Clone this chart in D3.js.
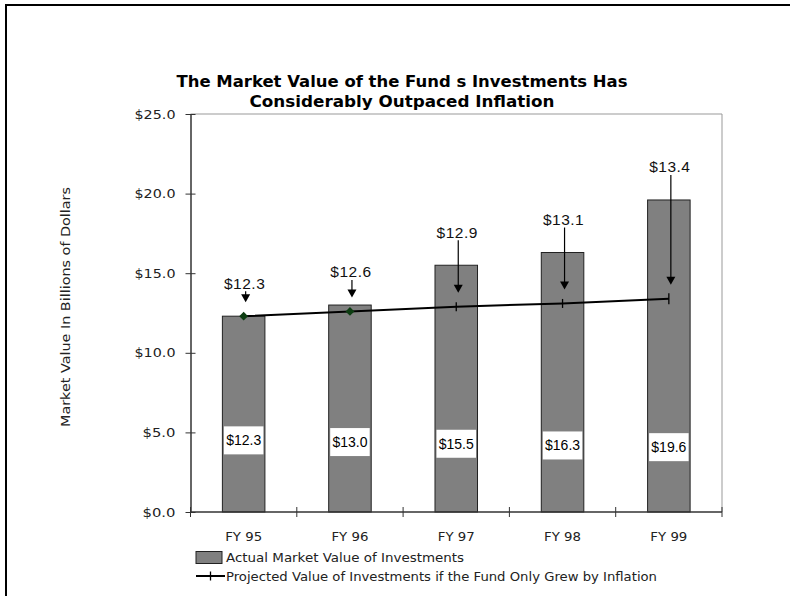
<!DOCTYPE html>
<html>
<head>
<meta charset="utf-8">
<script src="https://cdn.jsdelivr.net/npm/d3@7"></script>
<style>
  body { margin: 0; background: #fff; }
  svg { display: block; }
</style>
</head>
<body>
<div id="chart"></div>
<script>
const categories = ["FY 95", "FY 96", "FY 97", "FY 98", "FY 99"];
const actualValues = [12.3, 13.0, 15.5, 16.3, 19.6];
const projectedValues = [12.3, 12.6, 12.9, 13.1, 13.4];
const yTicks = [0, 5, 10, 15, 20, 25];
const titleLines = ["The Market Value of the Fund s Investments Has", "Considerably Outpaced Inflation"];
const legendLabels = ["Actual Market Value of Investments", "Projected Value of Investments if the Fund Only Grew by Inflation"];

const W = 790, H = 596;
const plotLeft = 190.5, plotRight = 722, plotTop = 114, plotBottom = 512;
const font = "'DejaVu Sans', sans-serif";
const money = d => "$" + d.toFixed(1);

const svg = d3.select("#chart").append("svg")
    .attr("width", W)
    .attr("height", H);

// outer frame (runs off the page on the right and bottom)
svg.append("rect")
    .attr("x", 6).attr("y", 5)
    .attr("width", 820).attr("height", 620)
    .style("fill", "none")
    .style("stroke", "#000")
    .style("stroke-width", 2);

const x = d3.scaleBand()
    .domain(categories)
    .range([plotLeft, plotRight])
    .paddingInner(0.6)
    .paddingOuter(0.3);

const y = d3.scaleLinear()
    .domain([0, 25])
    .range([plotBottom, plotTop]);

// title
svg.append("g").selectAll("text")
    .data(titleLines)
    .enter().append("text")
    .attr("x", 402)
    .attr("y", (d, i) => 87 + i * 20)
    .attr("text-anchor", "middle")
    .style("font-family", font)
    .style("font-weight", "bold")
    .style("font-size", "15px")
    .attr("textLength", (d, i) => i === 0 ? 451 : 305)
    .attr("lengthAdjust", "spacingAndGlyphs")
    .text(d => d);

// plot frame top / right
svg.append("path")
    .attr("d", `M${plotLeft},${plotTop}H${plotRight}V${plotBottom}`)
    .style("fill", "none")
    .style("stroke", "#999")
    .style("stroke-width", 1);

// y axis
const yAxis = d3.axisLeft(y)
    .tickValues(yTicks)
    .tickFormat(money)
    .tickSize(5)
    .tickSizeOuter(0)
    .tickPadding(10);

const yg = svg.append("g")
    .attr("transform", `translate(${plotLeft},0)`)
    .call(yAxis);
yg.select(".domain").style("stroke", "#333").style("stroke-width", 1.5);
yg.selectAll(".tick line").attr("x1", 5).style("stroke", "#333");
yg.selectAll(".tick text")
    .style("font-family", font)
    .style("font-size", "12.5px")
    .style("fill", "#222")
    .attr("textLength", d => d < 10 ? 33 : 41)
    .attr("lengthAdjust", "spacingAndGlyphs");

svg.append("text")
    .attr("transform", "translate(70,307) rotate(-90)")
    .attr("text-anchor", "middle")
    .style("font-family", font)
    .style("font-size", "13px")
    .style("fill", "#222")
    .attr("textLength", 240)
    .attr("lengthAdjust", "spacingAndGlyphs")
    .text("Market Value In Billions of Dollars");

// bars
svg.append("g").selectAll("rect")
    .data(actualValues)
    .enter().append("rect")
    .attr("x", (d, i) => x(categories[i]))
    .attr("y", d => y(d))
    .attr("width", x.bandwidth())
    .attr("height", d => y(0) - y(d))
    .style("fill", "#808080")
    .style("stroke", "#222")
    .style("stroke-width", 1);

// value boxes inside the bars
const boxes = svg.append("g").selectAll("g")
    .data(actualValues)
    .enter().append("g")
    .attr("transform", (d, i) => `translate(${x(categories[i]) + x.bandwidth() / 2},${y(4.5) + i * 1.7})`);
boxes.append("rect")
    .attr("x", -x.bandwidth() / 2 + 1.5)
    .attr("y", -14)
    .attr("width", x.bandwidth() - 3)
    .attr("height", 28)
    .style("fill", "#fff");
boxes.append("text")
    .attr("text-anchor", "middle")
    .attr("dy", "0.35em")
    .style("font-family", "'Liberation Sans', Arial, sans-serif")
    .style("font-size", "14px")
    .text(d => money(d));

// x axis
const xg = svg.append("g");
xg.append("line")
    .attr("x1", plotLeft).attr("x2", plotRight)
    .attr("y1", plotBottom).attr("y2", plotBottom)
    .style("stroke", "#333")
    .style("stroke-width", 1.5);
xg.selectAll(".xt")
    .data(d3.range(categories.length + 1))
    .enter().append("line")
    .attr("class", "xt")
    .attr("x1", i => plotLeft + i * x.step())
    .attr("x2", i => plotLeft + i * x.step())
    .attr("y1", plotBottom - 5)
    .attr("y2", plotBottom + 5)
    .style("stroke", "#333");
xg.selectAll("text")
    .data(categories)
    .enter().append("text")
    .attr("x", d => x(d) + x.bandwidth() / 2)
    .attr("y", 541)
    .attr("text-anchor", "middle")
    .style("font-family", font)
    .style("font-size", "12.5px")
    .style("fill", "#222")
    .attr("textLength", 37)
    .attr("lengthAdjust", "spacingAndGlyphs")
    .text(d => d);

// projected line
const cx = i => x(categories[i]) + x.bandwidth() / 2;
const line = d3.line()
    .x((d, i) => cx(i))
    .y(d => y(d));
svg.append("path")
    .datum(projectedValues)
    .attr("d", line)
    .style("fill", "none")
    .style("stroke", "#000")
    .style("stroke-width", 2);

const marks = svg.append("g").selectAll("g")
    .data(projectedValues)
    .enter().append("g")
    .attr("transform", (d, i) => `translate(${cx(i)},${y(d)})`);
marks.filter((d, i) => i < 2).append("path")
    .attr("d", d3.symbol(d3.symbolDiamond2, 50))
    .style("fill", "#0d3d12");
marks.filter((d, i) => i >= 2).append("line")
    .attr("y1", (d, i) => i === 2 ? -5.5 : -4.5)
    .attr("y2", (d, i) => i === 2 ? 5.5 : 4.5)
    .style("stroke", "#000")
    .style("stroke-width", 1.3);

// callout labels with arrows
const callouts = svg.append("g").selectAll("g")
    .data(projectedValues)
    .enter().append("g");
callouts.append("text")
    .attr("x", (d, i) => cx(i) + 1)
    .attr("y", (d, i) => y(actualValues[i]) - 33)
    .attr("dy", "0.35em")
    .attr("text-anchor", "middle")
    .style("font-family", "'Liberation Sans', Arial, sans-serif")
    .style("font-size", "15.5px")
    .style("letter-spacing", "0.5px")
    .style("fill", "#111")
    .text(d => money(d));
callouts.append("line")
    .attr("x1", (d, i) => cx(i) + 2)
    .attr("x2", (d, i) => cx(i) + 2)
    .attr("y1", (d, i) => y(actualValues[i]) - 25)
    .attr("y2", d => y(d) - 20)
    .style("stroke", "#000")
    .style("stroke-width", 1.2);
callouts.append("path")
    .attr("d", (d, i) => {
        const tx = cx(i) + 2, ty = y(d) - 14;
        return `M${tx - 4.5},${ty - 8}L${tx + 4.5},${ty - 8}L${tx},${ty}Z`;
    })
    .style("fill", "#000");

// legend
const lg = svg.append("g");
lg.append("rect")
    .attr("x", 196).attr("y", 551.5)
    .attr("width", 26).attr("height", 12)
    .style("fill", "#808080")
    .style("stroke", "#222");
lg.append("line")
    .attr("x1", 196).attr("x2", 225)
    .attr("y1", 576).attr("y2", 576)
    .style("stroke", "#000").style("stroke-width", 2);
lg.append("line")
    .attr("x1", 210.5).attr("x2", 210.5)
    .attr("y1", 571.5).attr("y2", 580.5)
    .style("stroke", "#000").style("stroke-width", 1.3);
lg.selectAll("text")
    .data(legendLabels)
    .enter().append("text")
    .attr("x", 226)
    .attr("y", (d, i) => 562 + i * 19)
    .style("font-family", font)
    .style("font-size", "12px")
    .style("fill", "#222")
    .attr("textLength", (d, i) => i === 0 ? 238 : 431)
    .attr("lengthAdjust", "spacingAndGlyphs")
    .text(d => d);
</script>
</body>
</html>
